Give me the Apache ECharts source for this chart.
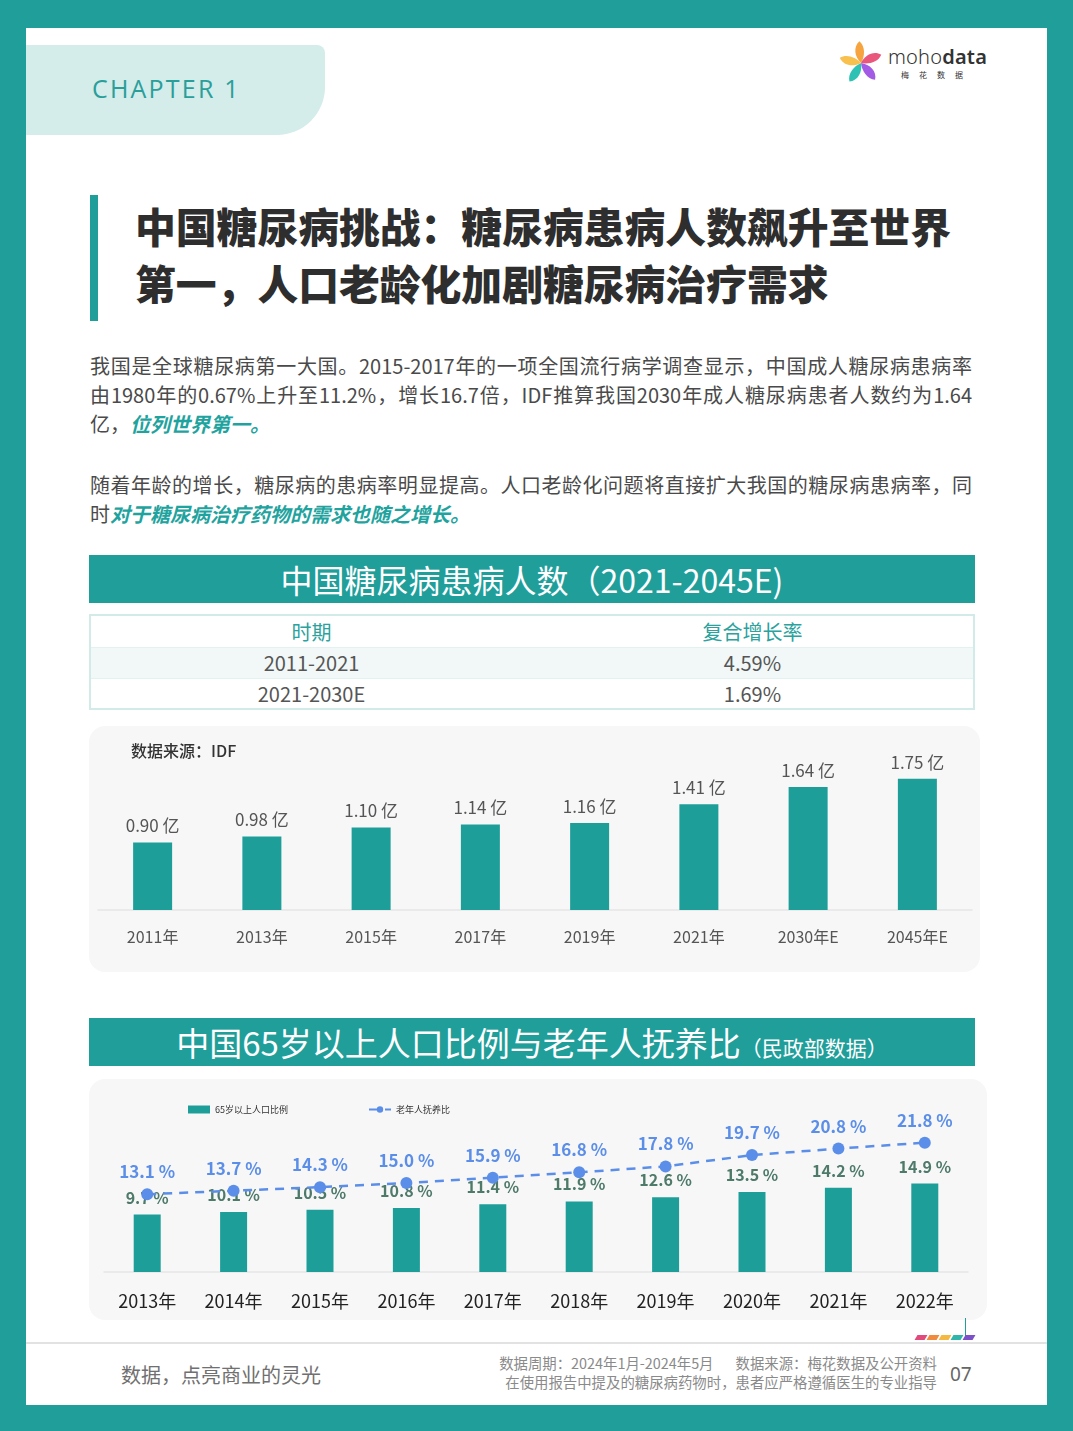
<!DOCTYPE html>
<html>
<head>
<meta charset="utf-8">
<script src="https://cdn.jsdelivr.net/npm/echarts/dist/echarts.min.js"></script>
<style>
  html, body { margin:0; padding:0; }
  body { width:1073px; height:1431px; background:#1f9e9a; position:relative; overflow:hidden;
         font-family:"Noto Sans CJK SC","Noto Sans",sans-serif; }
  .abs { position:absolute; }
  #page { left:26px; top:28px; width:1021px; height:1377px; background:#fff; }
  #tab { left:26px; top:45px; width:299px; height:90px; background:#d4ecea; border-radius:0 8px 48px 0; }
  #chapter { left:92px; top:70px; font-family:"Open Sans","Noto Sans",sans-serif; font-size:25px; line-height:36px;
             letter-spacing:2.2px; color:#2a9f9a; }
  #tbar { left:90px; top:195px; width:8px; height:126px; background:#1f9e9a; }
  #title { left:135px; top:197px; font-size:40.8px; line-height:57px; font-weight:900; color:#2e2e2e; white-space:nowrap; }
  .para { left:90px; width:882px; font-size:20px; line-height:29px; color:#4a4a4a; }
  .para .ln { white-space:nowrap; }
  .para .j { text-align:justify; text-align-last:justify; }
  .hl { color:#1fa39e; font-style:italic; font-weight:700; }
  .band { left:89px; width:886px; height:48px; background:#1f9e9a; color:#fff; text-align:center; white-space:nowrap; }
  #table { left:89px; top:614px; width:882px; height:92px; border:2px solid #d2eae8; }
  .row { position:absolute; left:0; width:882px; box-sizing:border-box; line-height:30px; font-size:20px; color:#555; }
  .row span { position:absolute; width:441px; text-align:center; top:0; }
  .panel { background:#f7f7f7; border-radius:16px; }
  #foot { left:26px; top:1342px; width:1021px; height:2px; background:#e2e2e2; }
</style>
</head>
<body>
<div id="page" class="abs"></div>
<div id="tab" class="abs"></div>
<div id="chapter" class="abs">CHAPTER 1</div>

<svg class="abs" style="left:838px;top:40px" width="46" height="46" viewBox="-23 -23 46 46">
  <g>
    <path d="M0,0 C-4,-8 -2,-18 6,-21 C10,-14 6,-5 0,0Z" fill="#f6a43f" transform="rotate(-20)"/>
    <path d="M0,0 C-4,-8 -2,-18 6,-21 C10,-14 6,-5 0,0Z" fill="#e9577d" transform="rotate(52)"/>
    <path d="M0,0 C-4,-8 -2,-18 6,-21 C10,-14 6,-5 0,0Z" fill="#a35be6" transform="rotate(124)"/>
    <path d="M0,0 C-4,-8 -2,-18 6,-21 C10,-14 6,-5 0,0Z" fill="#2fc2b4" transform="rotate(196)"/>
    <path d="M0,0 C-4,-8 -2,-18 6,-21 C10,-14 6,-5 0,0Z" fill="#f8c04d" transform="rotate(268)"/>
  </g>
</svg>
<div class="abs" style="left:888px;top:45px;font-family:'Noto Sans',sans-serif;font-size:20px;line-height:24px;color:#333;letter-spacing:0.2px"><span style="font-weight:300">moho</span><span style="font-weight:600">data</span></div>
<div class="abs" style="left:901px;top:69px;font-size:8px;line-height:12px;color:#333;letter-spacing:10px">梅花数据</div>

<div id="tbar" class="abs"></div>
<div id="title" class="abs">中国糖尿病挑战：糖尿病患病人数飙升至世界<br>第一，人口老龄化加剧糖尿病治疗需求</div>

<div class="abs para" style="top:351px">
  <div class="ln j">我国是全球糖尿病第一大国。2015-2017年的一项全国流行病学调查显示，中国成人糖尿病患病率</div>
  <div class="ln j">由1980年的0.67%上升至11.2%，增长16.7倍，IDF推算我国2030年成人糖尿病患者人数约为1.64</div>
  <div class="ln">亿，<span class="hl">位列世界第一。</span></div>
</div>
<div class="abs para" style="top:470px">
  <div class="ln j">随着年龄的增长，糖尿病的患病率明显提高。人口老龄化问题将直接扩大我国的糖尿病患病率，同</div>
  <div class="ln">时<span class="hl">对于糖尿病治疗药物的需求也随之增长。</span></div>
</div>

<div class="abs band" style="top:555px;font-size:32px;line-height:48px">中国糖尿病患病人数（2021-2045E)</div>

<div id="table" class="abs">
  <div class="row" style="top:0;height:31px;line-height:31px;background:#fff"><span style="left:0;color:#2aa29d">时期</span><span style="left:441px;color:#2aa29d">复合增长率</span></div>
  <div class="row" style="top:31px;height:31px;background:#f1f8f7;border-top:1px solid #e3f1f0"><span style="left:0">2011-2021</span><span style="left:441px">4.59%</span></div>
  <div class="row" style="top:62px;height:30px;background:#fff;border-top:1px solid #e3f1f0"><span style="left:0">2021-2030E</span><span style="left:441px">1.69%</span></div>
</div>

<div class="abs panel" style="left:89px;top:726px;width:891px;height:246px"></div>
<div id="c1" class="abs" style="left:89px;top:726px;width:891px;height:246px"></div>

<div class="abs band" style="top:1018px;font-size:33px;line-height:48px">中国65岁以上人口比例与老年人抚养比<span style="font-size:21px">（民政部数据）</span></div>

<div class="abs panel" style="left:89px;top:1079px;width:898px;height:241px"></div>
<div id="c2" class="abs" style="left:89px;top:1080px;width:898px;height:240px"></div>

<div class="abs" style="left:965px;top:1318px;width:1px;height:19px;background:#1f9e9a"></div>
<div class="abs" style="left:916px;top:1335px;width:70px;height:6px">
  <div class="abs" style="left:0;top:0;width:10px;height:5px;background:#e24a7c;transform:skewX(-30deg)"></div>
  <div class="abs" style="left:12px;top:0;width:10px;height:5px;background:#ef8a3f;transform:skewX(-30deg)"></div>
  <div class="abs" style="left:24px;top:0;width:10px;height:5px;background:#f5b943;transform:skewX(-30deg)"></div>
  <div class="abs" style="left:36px;top:0;width:10px;height:5px;background:#2fb5aa;transform:skewX(-30deg)"></div>
  <div class="abs" style="left:48px;top:0;width:10px;height:5px;background:#7c50c8;transform:skewX(-30deg)"></div>
</div>
<div id="foot" class="abs"></div>
<div class="abs" style="left:121px;top:1362px;font-size:20px;line-height:26px;color:#707070;white-space:nowrap">数据，点亮商业的灵光</div>
<div class="abs" style="left:437px;top:1353px;width:500px;font-size:14.4px;line-height:19px;color:#8a8a8a;text-align:right;white-space:nowrap">数据周期：2024年1月-2024年5月<span style="display:inline-block;width:22px"></span>数据来源：梅花数据及公开资料<br>在使用报告中提及的糖尿病药物时，患者应严格遵循医生的专业指导</div>
<div class="abs" style="left:950px;top:1361px;font-family:'Noto Sans',sans-serif;font-size:19px;line-height:26px;color:#666">07</div>

<script>
// ---- Chart 1 data: 中国糖尿病患病人数 (亿) ----
const diabetesYears = ['2011年', '2013年', '2015年', '2017年', '2019年', '2021年', '2030年E', '2045年E'];
const diabetesPatients = [0.90, 0.98, 1.10, 1.14, 1.16, 1.41, 1.64, 1.75];

// ---- Chart 2 data: 65岁以上人口比例 / 老年人抚养比 (%) ----
const agingYears = ['2013年', '2014年', '2015年', '2016年', '2017年', '2018年', '2019年', '2020年', '2021年', '2022年'];
const elderlyShare = [9.7, 10.1, 10.5, 10.8, 11.4, 11.9, 12.6, 13.5, 14.2, 14.9];
const dependencyRatio = [13.1, 13.7, 14.3, 15.0, 15.9, 16.8, 17.8, 19.7, 20.8, 21.8];

const FONT = '"Noto Sans CJK SC","Noto Sans",sans-serif';
const TEAL = '#1e9e99';
const BLUE = '#5b8ee8';

const c1 = echarts.init(document.getElementById('c1'), null, {renderer: 'canvas'});
c1.setOption({
  animation: false,
  textStyle: {fontFamily: FONT},
  title: {
    text: '数据来源：IDF', left: 42, top: 17, padding: 0,
    textStyle: {fontSize: 16, fontWeight: 500, color: '#333', fontFamily: FONT}
  },
  grid: {left: 9, right: 8, top: 19, bottom: 62},
  xAxis: {
    type: 'category', data: diabetesYears,
    axisLine: {lineStyle: {color: '#e6e6e6', width: 1.5}},
    axisTick: {show: false},
    axisLabel: {fontSize: 16, color: '#555', margin: 19, fontFamily: FONT}
  },
  yAxis: {type: 'value', min: 0, max: 2.2, show: false, splitLine: {show: false}},
  series: [{
    type: 'bar', data: diabetesPatients, barWidth: 39,
    itemStyle: {color: TEAL},
    label: {
      show: true, position: 'top', distance: 8, fontSize: 17, color: '#555', fontFamily: FONT,
      formatter: p => p.value.toFixed(2) + ' 亿'
    }
  }]
});

const c2 = echarts.init(document.getElementById('c2'), null, {renderer: 'canvas'});
c2.setOption({
  animation: false,
  textStyle: {fontFamily: FONT},
  legend: {
    left: 99, top: 25, padding: 0, itemGap: 80, itemWidth: 22, itemHeight: 8,
    textStyle: {fontSize: 9, color: '#333', fontFamily: FONT},
    data: [
      {name: '65岁以上人口比例', icon: 'rect', itemStyle: {color: TEAL}},
      {name: '老年人抚养比'}
    ]
  },
  grid: {left: 15, right: 19, top: 14, bottom: 48},
  xAxis: {
    type: 'category', data: agingYears,
    axisLine: {lineStyle: {color: '#e6e6e6', width: 1.5}},
    axisTick: {show: false},
    axisLabel: {fontSize: 18, color: '#222', margin: 20, fontFamily: FONT}
  },
  yAxis: {type: 'value', min: 0, max: 30, show: false, splitLine: {show: false}},
  series: [{
    name: '65岁以上人口比例', type: 'bar', data: elderlyShare, barWidth: 27,
    itemStyle: {color: TEAL},
    label: {
      show: true, position: 'top', distance: 9, fontSize: 16, fontWeight: 600, color: '#4e7a6a', fontFamily: FONT,
      formatter: p => p.value.toFixed(1) + ' %'
    }
  }, {
    name: '老年人抚养比', type: 'line', data: dependencyRatio,
    symbol: 'circle', symbolSize: 12,
    lineStyle: {color: BLUE, width: 2.5, type: [9, 7]},
    itemStyle: {color: BLUE},
    label: {
      show: true, position: 'top', distance: 8, fontSize: 17, fontWeight: 600, color: BLUE, fontFamily: FONT,
      formatter: p => p.value.toFixed(1) + ' %'
    }
  }]
});
</script>
</body>
</html>
